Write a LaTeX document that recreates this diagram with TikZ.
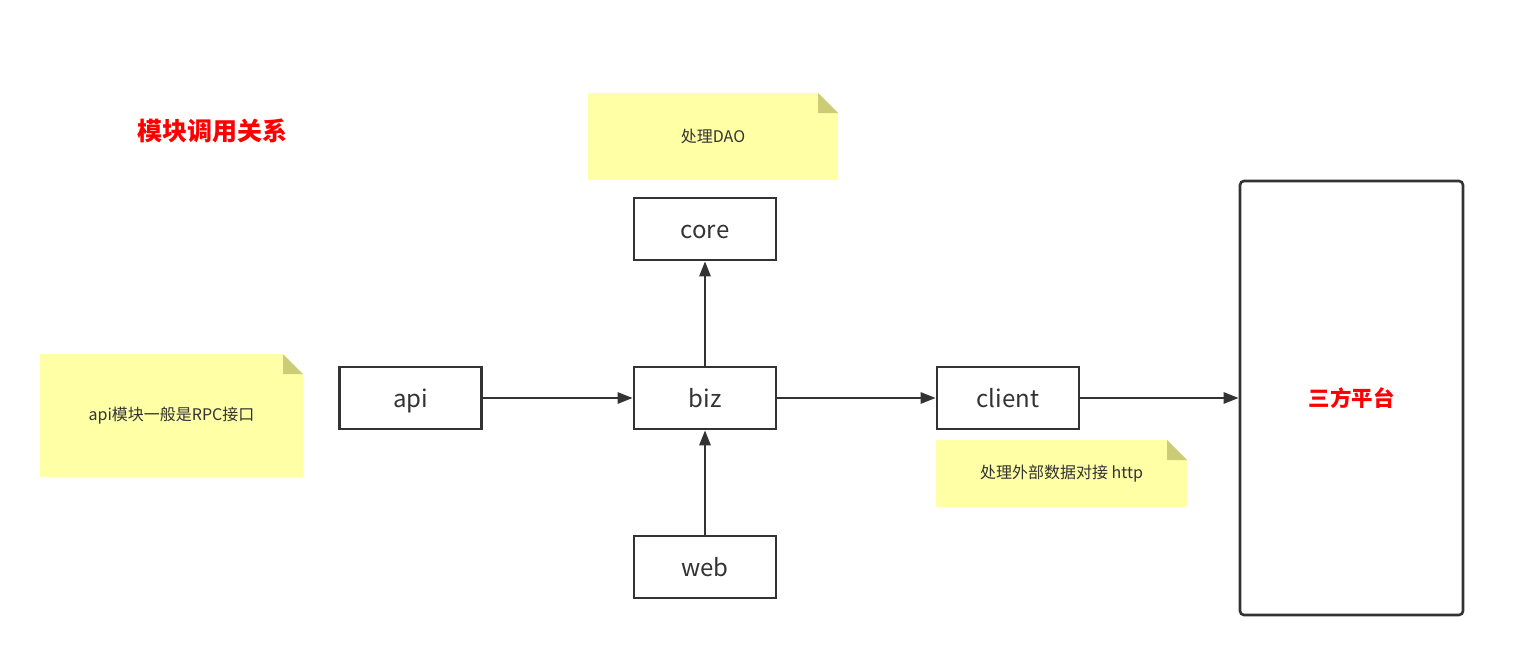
\documentclass[tikz,border=0pt]{standalone}
\usepackage{fontspec}
\setmainfont{Noto Sans CJK SC}
\usetikzlibrary{arrows.meta}
\definecolor{notey}{RGB}{255,255,166}
\definecolor{foldc}{RGB}{204,204,119}
\definecolor{linec}{RGB}{51,51,51}
\definecolor{titler}{RGB}{255,0,0}
\tikzset{
  modbox/.style={draw=linec, line width=2.6pt, fill=white, minimum width=142pt, minimum height=62pt, inner sep=0pt, font=\fontsize{24}{28}\selectfont, text=linec, text height=21pt, text depth=2pt},
  notebox/.style={fill=notey, inner sep=0pt, font=\fontsize{16}{19}\selectfont, text=linec,
    path picture={
      \fill[white] ([xshift=-20pt]path picture bounding box.north east) -- (path picture bounding box.north east) -- ([yshift=-20pt]path picture bounding box.north east) -- cycle;
      \fill[foldc] ([xshift=-20pt]path picture bounding box.north east) -- ([xshift=-20pt,yshift=-20pt]path picture bounding box.north east) -- ([yshift=-20pt]path picture bounding box.north east) -- cycle;
    }},
  conn/.style={draw=linec, line width=2.6pt, -{Triangle[length=15pt,width=11pt]}},
}
\begin{document}
\begin{tikzpicture}[x=1pt,y=-1pt]
\useasboundingbox (0,0) rectangle (1522,664);
\node[font=\bfseries\fontsize{25}{29}\selectfont, text=titler] (title) at (212,131) {模块调用关系};
\node[notebox, minimum width=250pt, minimum height=87pt] (ndao) at (713,136.5) {处理DAO};
\node[notebox, minimum width=263pt, minimum height=123pt] (napi) at (171.5,415.5) {api模块一般是RPC接口};
\node[notebox, minimum width=251pt, minimum height=67pt] (ncli) at (1061.5,473.5) {处理外部数据对接 http};
\node[modbox] (core) at (705,229) {core};
\node[modbox] (api) at (410.5,398) {api};
\node[modbox] (biz) at (705,398) {biz};
\node[modbox] (client) at (1008,398) {client};
\node[modbox] (web) at (705,567) {web};
\node[draw=linec, line width=2.6pt, rounded corners=4pt, minimum width=223pt, minimum height=434pt, inner sep=0pt, font=\bfseries\fontsize{21.5}{25}\selectfont, text=titler] (tp) at (1351.5,398) {三方平台};
\draw[conn] (api) -- (biz);
\draw[conn] (biz) -- (client);
\draw[conn] (client) -- (tp);
\draw[conn] (biz) -- (core);
\draw[conn] (web) -- (biz);
\end{tikzpicture}
\end{document}
